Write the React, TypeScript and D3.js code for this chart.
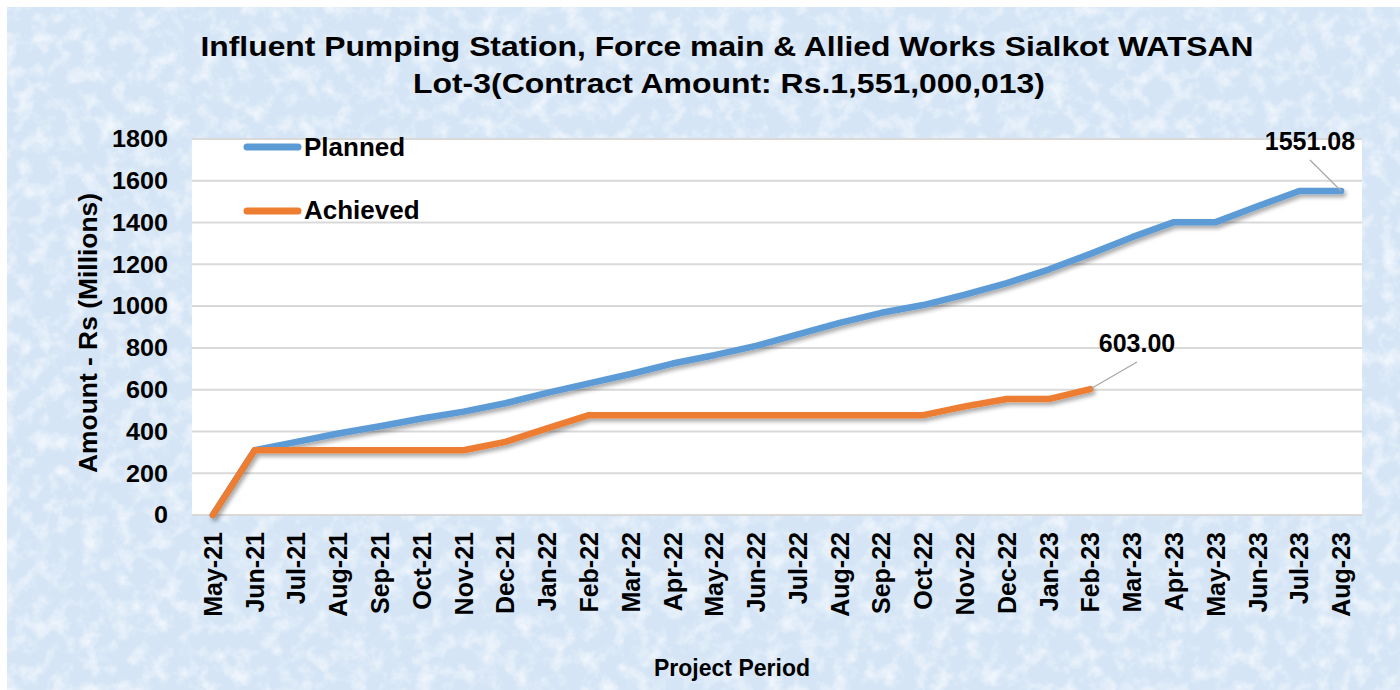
import React from "react";
import * as d3 from "d3";

const months = ["May-21","Jun-21","Jul-21","Aug-21","Sep-21","Oct-21","Nov-21","Dec-21","Jan-22","Feb-22","Mar-22","Apr-22","May-22","Jun-22","Jul-22","Aug-22","Sep-22","Oct-22","Nov-22","Dec-22","Jan-23","Feb-23","Mar-23","Apr-23","May-23","Jun-23","Jul-23","Aug-23"];
const planned = [0,310,350,390,425,462,495,535,585,630,675,725,765,810,865,920,968,1005,1055,1110,1175,1250,1330,1402,1402,1478,1551,1551.08];
const achieved: (number|null)[] = [0,310,310,310,310,310,310,350,415,478,478,478,478,478,478,478,478,478,520,555,555,603,null,null,null,null,null,null];
const yTicks = [0,200,400,600,800,1000,1200,1400,1600,1800];
const titleLines = ["Influent Pumping Station, Force main & Allied Works Sialkot WATSAN","Lot-3(Contract Amount: Rs.1,551,000,013)"];

const W = 1400, H = 690;
const L = 192, R = 1362, T = 139, B = 515;
const FONT = "'Liberation Sans', Arial, sans-serif";

export default function App() {
  const x = d3.scalePoint<string>().domain(months).range([L, R]).padding(0.5);
  const y = d3.scaleLinear().domain([0, 1800]).range([B, T]);
  const lineP = d3.line<number>().x((_, i) => x(months[i])!).y(d => y(d));
  const lineA = d3.line<number|null>().defined(d => d !== null).x((_, i) => x(months[i])!).y(d => y(d as number));
  const lastP = planned.length - 1;
  let lastA = 0;
  achieved.forEach((v, i) => { if (v !== null) lastA = i; });
  const pEndX = x(months[lastP])!, pEndY = y(planned[lastP]);
  const aEndX = x(months[lastA])!, aEndY = y(achieved[lastA] as number);
  const titleLens = [1053, 632];
  const titleCx = [727, 729];

  return (
    <svg width={W} height={H} style={{ position: "absolute", left: 0, top: 0 }} fontFamily={FONT}>
      <defs>
        <filter id="tex" x="0" y="0" width="100%" height="100%">
          <feTurbulence type="fractalNoise" baseFrequency="0.06" numOctaves={4} seed={5} result="n" />
          <feColorMatrix in="n" type="matrix" values="0 0 0 0 0.93  0 0 0 0 0.96  0 0 0 0 0.99  0 0 0 -1.8 1.0" result="c" />
          <feComposite in="c" in2="SourceGraphic" operator="over" />
        </filter>
        <filter id="sh" x="-5%" y="-20%" width="110%" height="140%">
          <feGaussianBlur in="SourceAlpha" stdDeviation="2" />
          <feOffset dx="2" dy="3" result="b" />
          <feComponentTransfer><feFuncA type="linear" slope="0.35" /></feComponentTransfer>
          <feMerge><feMergeNode /><feMergeNode in="SourceGraphic" /></feMerge>
        </filter>
      </defs>
      <rect x={0} y={0} width={W} height={H} fill="#ffffff" />
      <rect x={7} y={7} width={W - 7} height={H - 7} fill="#d5e5f6" filter="url(#tex)" />
      <rect x={L} y={T} width={R - L} height={B - T} fill="#ffffff" />
      {yTicks.map(t => (
        <line key={t} x1={L} x2={R} y1={y(t)} y2={y(t)} stroke="#d9d9d9" strokeWidth={2} />
      ))}
      {titleLines.map((s, i) => (
        <text key={i} x={titleCx[i]} y={56 + i * 37} textAnchor="middle" fontSize={28} fontWeight="bold" fill="#000"
          textLength={titleLens[i]} lengthAdjust="spacingAndGlyphs">{s}</text>
      ))}
      {yTicks.map(t => (
        <text key={t} x={168} y={y(t)} dy="0.36em" textAnchor="end" fontSize={23} fontWeight="bold" fill="#000"
          textLength={String(t).length * 14} lengthAdjust="spacingAndGlyphs">{t}</text>
      ))}
      <text transform={`translate(97,333) rotate(-90)`} textAnchor="middle" fontSize={26} fontWeight="bold" fill="#000"
        textLength={280} lengthAdjust="spacingAndGlyphs">Amount - Rs (Millions)</text>
      {months.map(m => (
        <text key={m} transform={`translate(${x(m)! + 9},532) rotate(-90)`} textAnchor="end" fontSize={25} fontWeight="bold" fill="#000">{m}</text>
      ))}
      <text x={732} y={676} textAnchor="middle" fontSize={24} fontWeight="bold" fill="#000"
        textLength={156} lengthAdjust="spacingAndGlyphs">Project Period</text>
      <g filter="url(#sh)">
        <path d={lineP(planned)!} fill="none" stroke="#5b9bd5" strokeWidth={6.5} strokeLinejoin="round" strokeLinecap="round" />
        <path d={lineA(achieved)!} fill="none" stroke="#ed7d31" strokeWidth={6.5} strokeLinejoin="round" strokeLinecap="round" />
      </g>
      <line x1={247} x2={298} y1={147} y2={147} stroke="#5b9bd5" strokeWidth={7} strokeLinecap="round" />
      <text x={304} y={156} fontSize={26} fontWeight="bold" fill="#000">Planned</text>
      <line x1={247} x2={298} y1={211} y2={211} stroke="#ed7d31" strokeWidth={7} strokeLinecap="round" />
      <text x={304} y={219} fontSize={26} fontWeight="bold" fill="#000">Achieved</text>
      <line x1={1310} x2={pEndX} y1={160} y2={pEndY} stroke="#a6a6a6" strokeWidth={1.2} />
      <text x={1310} y={150} textAnchor="middle" fontSize={25} fontWeight="bold" fill="#000">{planned[lastP].toFixed(2)}</text>
      <line x1={1137} x2={aEndX} y1={362} y2={aEndY} stroke="#a6a6a6" strokeWidth={1.2} />
      <text x={1137} y={352} textAnchor="middle" fontSize={25} fontWeight="bold" fill="#000">{(achieved[lastA] as number).toFixed(2)}</text>
    </svg>
  );
}
